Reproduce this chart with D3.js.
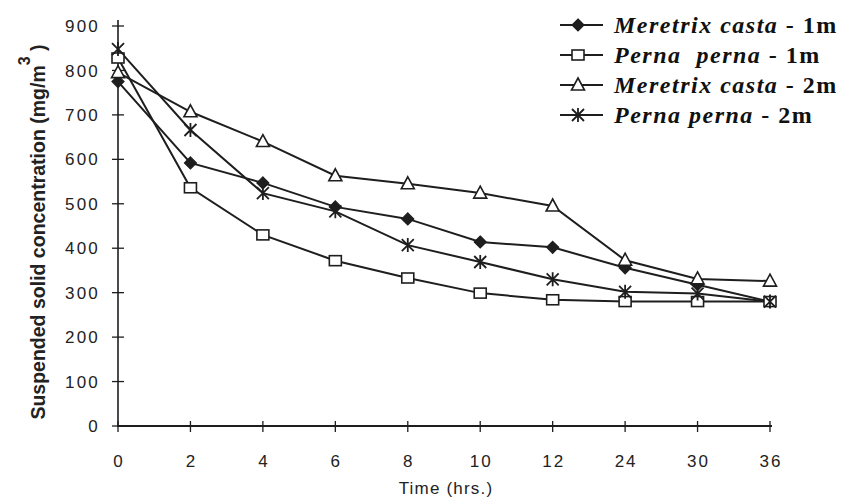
<!DOCTYPE html>
<html><head><meta charset="utf-8">
<script src="https://cdn.jsdelivr.net/npm/d3@7"></script>
<style>body{margin:0;background:#fff}svg{display:block}</style>
</head><body>
<svg id="c" width="844" height="498"></svg>
<script>
const categories = ["0","2","4","6","8","10","12","24","30","36"];
const meretrix1m = [775, 592, 547, 493, 466, 414, 402, 356, 318, 280];
const perna1m    = [828, 536, 430, 372, 333, 299, 284, 280, 280, 280];
const meretrix2m = [795, 707, 640, 563, 545, 524, 495, 373, 331, 326];
const perna2m    = [848, 666, 524, 483, 407, 369, 330, 302, 298, 280];
const yTicks = [0,100,200,300,400,500,600,700,800,900];
const seriesNames = ["Meretrix casta","Perna  perna","Meretrix casta","Perna perna"];
const seriesDepth = ["1m","1m","2m","2m"];
const seriesMarkers = ["diamond","square","triangle","asterisk"];

const ink = "#1e1e1e";
const sans = "Liberation Sans, Arial, sans-serif";
const svg = d3.select("#c");
const x = d3.scalePoint().domain(categories).range([118, 770]);
const y = d3.scaleLinear().domain([0, 900]).range([426, 26]);

// axes
const g = svg.append("g");
g.append("line").attr("x1",118).attr("x2",118).attr("y1",427).attr("y2",20).attr("stroke",ink).attr("stroke-width",1.6);
g.append("line").attr("x1",117).attr("x2",772).attr("y1",426).attr("y2",426).attr("stroke",ink).attr("stroke-width",1.8);
g.selectAll(".yt").data(yTicks).join("line").attr("x1",112).attr("x2",124)
  .attr("y1",d=>y(d)).attr("y2",d=>y(d)).attr("stroke",ink).attr("stroke-width",1.3);
g.selectAll(".xt").data(categories).join("line").attr("x1",d=>x(d)).attr("x2",d=>x(d))
  .attr("y1",421).attr("y2",432).attr("stroke",ink).attr("stroke-width",1.3);
g.selectAll(".yl").data(yTicks).join("text").attr("x",100).attr("y",d=>y(d)).attr("dy","0.36em")
  .attr("text-anchor","end").attr("font-family",sans).attr("font-size",17)
  .attr("letter-spacing",2.2).attr("fill","#222").text(d=>d);
g.selectAll(".xl").data(categories).join("text").attr("x",d=>x(d)+1).attr("y",467)
  .attr("text-anchor","middle").attr("font-family",sans).attr("font-size",17)
  .attr("letter-spacing",2).attr("fill","#222").text(d=>d);
svg.append("text").attr("x",446).attr("y",494).attr("text-anchor","middle")
  .attr("font-family",sans).attr("font-size",17).attr("letter-spacing",1.2).attr("fill","#222").text("Time (hrs.)");
const yt = svg.append("text").attr("transform","translate(45,232) rotate(-90)").attr("text-anchor","middle")
  .attr("font-family",sans).attr("font-size",19.5).attr("font-weight","bold").attr("fill","#222");
yt.append("tspan").text("Suspended solid concentration (mg/m");
yt.append("tspan").attr("dy",-15).attr("font-size",16).text("3");
yt.append("tspan").attr("dy",15).text(" )");

// markers
function marker(sel, type, cx, cy){
  const s = 6;
  if(type==="diamond"){
    sel.append("path").attr("d",`M${cx},${cy-s}L${cx+s},${cy}L${cx},${cy+s}L${cx-s},${cy}Z`).attr("fill",ink).attr("stroke",ink).attr("stroke-width",1.2);
  } else if(type==="square"){
    sel.append("rect").attr("x",cx-6).attr("y",cy-5).attr("width",12).attr("height",10).attr("fill","#fff").attr("stroke",ink).attr("stroke-width",1.6);
  } else if(type==="triangle"){
    sel.append("path").attr("d",`M${cx},${cy-7}L${cx+6.5},${cy+5}L${cx-6.5},${cy+5}Z`).attr("fill","#fff").attr("stroke",ink).attr("stroke-width",1.6);
  } else {
    sel.append("path").attr("d",`M${cx-6},${cy-6}L${cx+6},${cy+6}M${cx+6},${cy-6}L${cx-6},${cy+6}M${cx},${cy-7}L${cx},${cy+7}`).attr("stroke",ink).attr("stroke-width",1.8).attr("fill","none");
  }
}

const allSeries = [meretrix1m, perna1m, meretrix2m, perna2m];
const line = d3.line().x((d,i)=>x(categories[i])).y(d=>y(d));
allSeries.forEach((vals,k)=>{
  svg.append("path").datum(vals).attr("d",line).attr("fill","none").attr("stroke",ink).attr("stroke-width",2);
});
allSeries.forEach((vals,k)=>{
  const mg = svg.append("g");
  vals.forEach((v,i)=>marker(mg, seriesMarkers[k], x(categories[i]), y(v)));
});

// legend
const lg = svg.append("g");
seriesNames.forEach((nm,k)=>{
  const ly = 25 + k*30;
  lg.append("line").attr("x1",560).attr("x2",603).attr("y1",ly).attr("y2",ly).attr("stroke",ink).attr("stroke-width",2.2);
  marker(lg, seriesMarkers[k], 578, ly);
  const t = lg.append("text").attr("x",614).attr("y",ly).attr("dy","0.33em")
    .attr("font-family","Liberation Serif, Times New Roman, serif").attr("font-size",24).attr("font-weight","bold")
    .attr("letter-spacing",1.5).attr("fill","#111");
  t.append("tspan").attr("font-style","italic").attr("xml:space","preserve").text(nm);
  t.append("tspan").text(" - " + seriesDepth[k]);
});
</script>
</body></html>
